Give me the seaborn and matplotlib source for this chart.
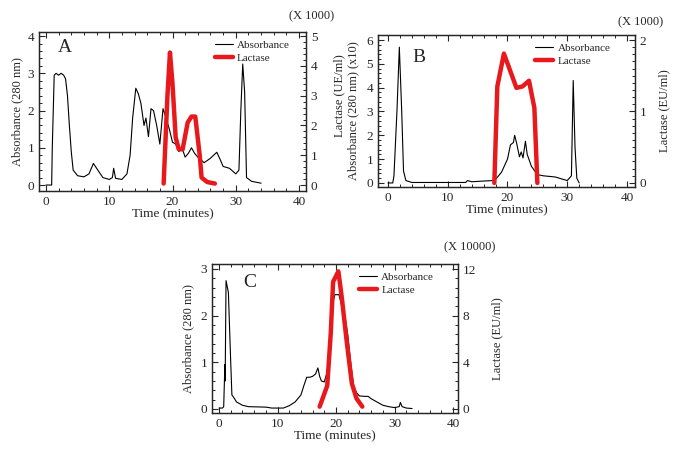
import matplotlib
matplotlib.use("Agg")
import matplotlib.pyplot as plt
import seaborn as sns
import pandas as pd
from matplotlib.ticker import MultipleLocator

# -----------------------------
# Data
# -----------------------------
a_abs_time = [0, 0.9, 1.0, 1.3, 1.6, 2.0, 2.4, 2.8, 3.1, 3.4, 3.7, 4.0, 4.3, 5.0, 6.0, 6.8, 7.5,
              8.2, 9.0, 10.0, 10.5, 10.7, 11.0, 12.0, 12.8, 13.3, 13.7, 14.2, 14.6, 15.0, 15.5,
              15.8, 16.2, 16.6, 17.0, 17.5, 18.0, 18.5, 18.8, 19.5, 20.0, 20.5, 21.0, 21.5, 22.0,
              22.5, 23.0, 23.5, 24.0, 25.0, 26.0, 27.0, 27.5, 28.0, 29.0, 30.0, 30.5, 30.8, 31.1,
              31.4, 31.7, 32.5, 34.0]
a_abs_value = [0.0, 0.0, 1.0, 2.95, 3.0, 2.95, 3.0, 2.95, 2.85, 2.4, 1.6, 0.9, 0.4, 0.25, 0.22,
               0.3, 0.58, 0.4, 0.2, 0.15, 0.2, 0.45, 0.18, 0.15, 0.3, 0.8, 1.8, 2.6, 2.45, 2.2,
               1.6, 1.8, 1.3, 2.05, 2.0, 1.6, 1.1, 2.05, 1.9, 1.5, 1.15, 1.1, 0.9, 1.0, 0.75,
               0.85, 1.0, 0.85, 0.75, 0.6, 0.72, 0.88, 0.7, 0.5, 0.45, 0.3, 0.4, 2.0, 3.25,
               2.5, 0.2, 0.1, 0.05]
a_lac_time = [18.6, 19.2, 19.6, 20.0, 20.5, 21.0, 21.6, 22.4, 23.0, 23.6, 24.3, 24.6, 25.5, 26.7]
a_lac_value = [0.05, 3.0, 4.45, 3.4, 1.6, 1.2, 1.2, 2.1, 2.3, 2.3, 1.0, 0.25, 0.1, 0.05]

b_abs_time = [0, 0.8, 1.0, 1.5, 1.9, 2.3, 2.6, 3.0, 4.0, 13.0, 13.3, 14.0, 16.0, 17.5, 18.0,
              19.0, 20.0, 20.5, 21.0, 21.2, 21.5, 22.0, 22.3, 22.6, 23.0, 23.3, 24.0, 25.0,
              26.0, 28.0, 30.0, 30.7, 31.0, 31.3, 31.6, 32.0]
b_abs_value = [0.0, 0.0, 0.3, 3.0, 5.7, 3.0, 0.5, 0.1, 0.02, 0.02, 0.1, 0.05, 0.08, 0.1, 0.15,
               0.45, 1.0, 1.6, 1.7, 2.0, 1.7, 1.1, 1.3, 1.05, 1.75, 1.2, 0.7, 0.35, 0.3, 0.25,
               0.1, 0.3, 4.3, 1.5, 0.2, 0.0]
b_lac_time = [17.8, 18.3, 19.4, 21.5, 22.5, 23.6, 24.5, 25.0]
b_lac_value = [0.0, 1.35, 1.81, 1.33, 1.35, 1.43, 1.05, 0.0]

c_abs_time = [0, 0.6, 0.8, 1.0, 1.05, 1.2, 1.6, 2.0, 2.2, 2.5, 3.0, 4.0, 5.0, 8.0, 9.0, 11.0,
              12.0, 13.0, 14.0, 14.5, 15.0, 15.5, 16.0, 16.5, 16.9, 17.2, 17.5, 18.0, 18.5,
              19.0, 19.5, 19.8, 20.5, 21.0, 21.5, 22.0, 22.5, 23.0, 23.5, 24.0, 25.0, 25.5,
              26.0, 27.0, 28.0, 29.0, 30.0, 30.8, 31.0, 31.3, 32.0, 33.0]
c_abs_value = [0.02, 0.02, 0.05, 0.95, 0.6, 2.75, 2.5, 1.0, 0.3, 0.25, 0.15, 0.08, 0.05, 0.04,
               0.02, 0.02, 0.07, 0.15, 0.3, 0.5, 0.68, 0.68, 0.7, 0.75, 0.88, 0.7, 0.6, 0.58,
               0.8, 1.5, 2.3, 2.45, 2.45, 2.2, 2.0, 1.6, 1.0, 0.5, 0.35, 0.28, 0.27, 0.27, 0.22,
               0.15, 0.08, 0.05, 0.03, 0.05, 0.14, 0.05, 0.02, 0.01]
c_lac_time = [17.2, 18.5, 19.1, 19.5, 20.4, 21.0, 21.8, 22.7, 23.5, 24.5]
c_lac_value = [0.2, 2.0, 6.5, 10.9, 11.8, 9.5, 5.9, 2.2, 0.9, 0.2]

sns.set_style("ticks")
plt.rcParams["font.family"] = ["Liberation Serif", "DejaVu Serif"]
plt.rcParams["font.size"] = 9.5

fig = plt.figure(figsize=(6.8, 4.5), dpi=100)


def draw_panel(rect, letter, abs_t, abs_v, lac_t, lac_v, xlim, ylim, ylim2,
               ymajor, yminor, y2major, y2minor, ylabel, y2label, scale_text,
               letter_pos, scale_pos, ylabel_pos, y2label_pos, legend_x):
    ax = fig.add_axes(rect)
    ax2 = ax.twinx()
    abs_df = pd.DataFrame({"time": abs_t, "value": abs_v})
    lac_df = pd.DataFrame({"time": lac_t, "value": lac_v})
    sns.lineplot(data=abs_df, x="time", y="value", ax=ax, color="black", lw=0.8,
                 sort=False, estimator=None, label="Absorbance", legend=False)
    sns.lineplot(data=lac_df, x="time", y="value", ax=ax2, color="#e8191c", lw=3.2,
                 sort=False, estimator=None, label="Lactase", legend=False)
    ax.set_xlim(*xlim)
    ax.set_ylim(*ylim)
    ax2.set_ylim(*ylim2)
    ax.xaxis.set_major_locator(MultipleLocator(10))
    ax.xaxis.set_minor_locator(MultipleLocator(2))
    ax.yaxis.set_major_locator(MultipleLocator(ymajor))
    ax.yaxis.set_minor_locator(MultipleLocator(yminor))
    ax2.yaxis.set_major_locator(MultipleLocator(y2major))
    ax2.yaxis.set_minor_locator(MultipleLocator(y2minor))
    ax.tick_params(which="both", direction="in", top=True, right=False, labelsize=9.5)
    ax.tick_params(which="major", length=4, width=0.8)
    ax.tick_params(which="minor", length=2.5, width=0.7)
    ax2.tick_params(which="both", direction="in", labelsize=9.5)
    ax2.tick_params(which="major", length=4, width=0.8)
    ax2.tick_params(which="minor", length=2.5, width=0.7)
    for a in (ax, ax2):
        for s in a.spines.values():
            s.set_linewidth(0.9)
    ax.set_xlabel("Time (minutes)", fontsize=9.5, labelpad=0)
    ax.set_ylabel(ylabel, fontsize=9)
    ax.yaxis.set_label_coords(*ylabel_pos)
    ax2.set_ylabel(y2label, fontsize=9)
    ax2.yaxis.set_label_coords(*y2label_pos)
    ax.text(letter_pos[0], letter_pos[1], letter, transform=ax.transAxes, fontsize=14,
            ha="left", va="top")
    ax.text(scale_pos[0], scale_pos[1], scale_text, transform=ax.transAxes, fontsize=9,
            ha="center", va="bottom")
    h1, l1 = ax.get_legend_handles_labels()
    h2, l2 = ax2.get_legend_handles_labels()
    ax2.legend(h1 + h2, l1 + l2, loc="upper right", frameon=False, fontsize=8,
               handlelength=1.6, handletextpad=0.4, labelspacing=0.3,
               borderaxespad=0.2, bbox_to_anchor=(legend_x, 0.99))
    return ax, ax2


draw_panel([39 / 680, 1 - 191 / 450, 267 / 680, 159 / 450], "A",
           a_abs_time, a_abs_value, a_lac_time, a_lac_value,
           (-1.1, 41.1), (-0.16, 4.11), (-0.2, 5.14), 1, 0.2, 1, 0.2,
           "Absorbance (280 nm)", "Lactase (UE/ml)", "(X 1000)",
           (0.07, 0.955), (1.02, 1.06), (-0.06, 0.5), (1.104, 0.6), 0.965)

draw_panel([378 / 680, 1 - 187 / 450, 257 / 680, 152 / 450], "B",
           b_abs_time, b_abs_value, b_lac_time, b_lac_value,
           (-1.67, 41.34), (-0.17, 6.21), (-0.057, 2.07), 1, 0.2, 1, 0.1,
           "Absorbance (280 nm) (x10)", "Lactase (EU/ml)", "(X 1000)",
           (0.132, 0.91), (1.02, 1.045), (-0.071, 0.5), (1.09, 0.5), 0.93)

draw_panel([212 / 680, 1 - 413 / 450, 246 / 680, 149 / 450], "C",
           c_abs_time, c_abs_value, c_lac_time, c_lac_value,
           (-1.2, 40.85), (-0.086, 3.107), (-0.344, 12.43), 1, 0.2, 4, 0.8,
           "Absorbance (280 nm)", "Lactase (EU/ml)", "(X 10000)",
           (0.126, 0.935), (1.049, 1.07), (-0.07, 0.5), (1.135, 0.5), 0.93)

fig.savefig("out.png", dpi=100)
